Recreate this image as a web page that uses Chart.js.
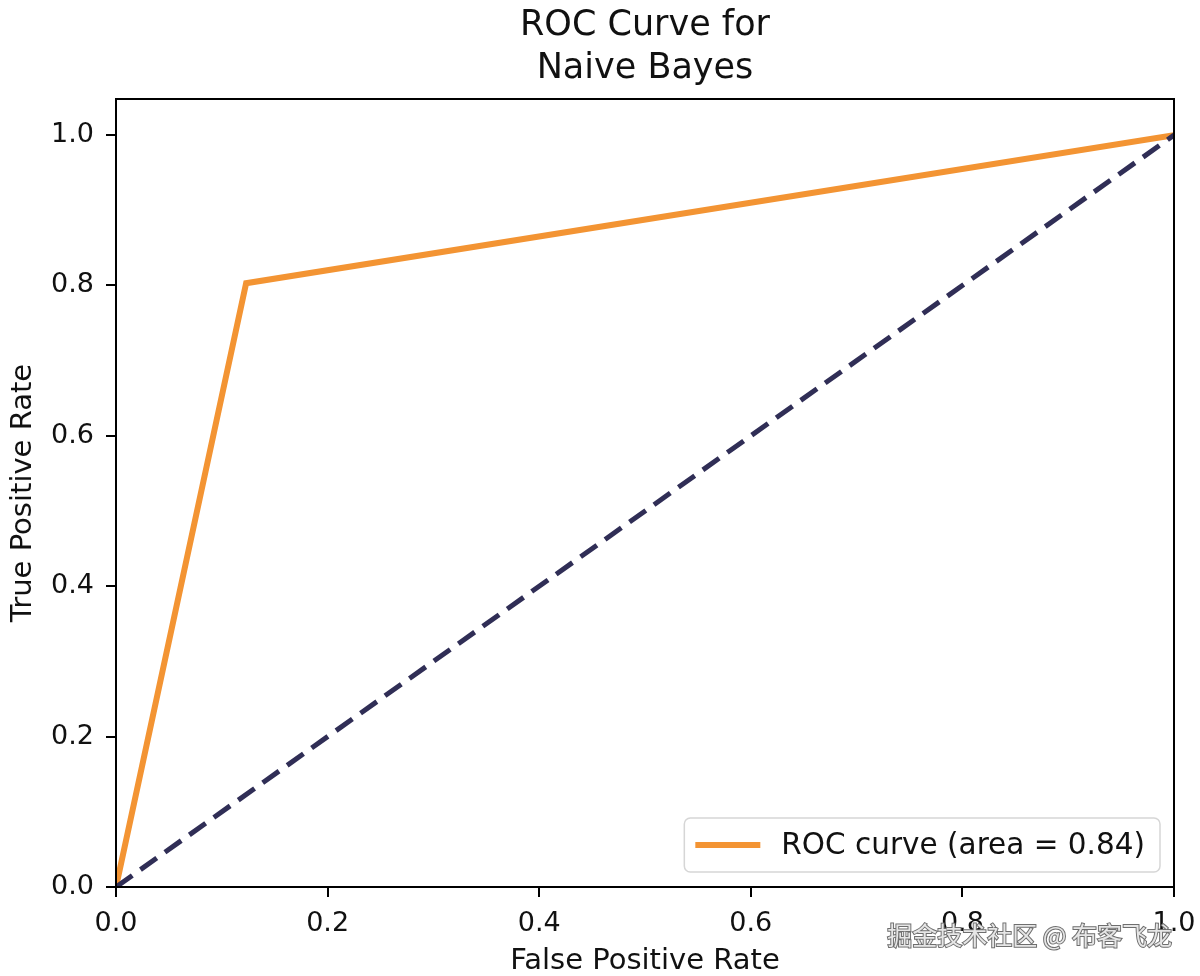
<!DOCTYPE html>
<html>
<head>
<meta charset="utf-8">
<script src="https://cdn.jsdelivr.net/npm/chart.js@4.4.1/dist/chart.umd.min.js"></script>
<style>
  html, body { margin: 0; padding: 0; background: #fff; }
  #wrap { width: 1200px; height: 976px; }
</style>
</head>
<body>
<div id="wrap"><canvas id="rocChart" width="1200" height="976"></canvas></div>
<script>
// ROC curve points
const fpr = [0.0, 0.123, 1.0];
const tpr = [0.0, 0.803, 1.0];
// chance line
const chanceX = [0.0, 1.0];
const chanceY = [0.0, 1.0];
const xTicks = [0.0, 0.2, 0.4, 0.6, 0.8, 1.0];
const yTicks = [0.0, 0.2, 0.4, 0.6, 0.8, 1.0];
const rocLabel = "ROC curve (area = 0.84)";
const titleLines = ["ROC Curve for", "Naive Bayes"];
const watermark = "掘金技术社区 @ 布客飞龙";

const FONT = "'DejaVu Sans', sans-serif";

// black box round the plot area
const frame = {
  id: "frame",
  afterDatasetsDraw(chart) {
    const { ctx, chartArea: a } = chart;
    ctx.save();
    ctx.strokeStyle = "#000";
    ctx.lineWidth = 2;
    ctx.strokeRect(a.left, a.top, a.right - a.left, a.bottom - a.top);
    ctx.restore();
  }
};

// title centred over the axes, not the canvas
const axesTitle = {
  id: "axesTitle",
  afterDraw(chart) {
    const { ctx, chartArea: a } = chart;
    ctx.save();
    ctx.font = "35px " + FONT;
    ctx.fillStyle = "#111";
    ctx.textAlign = "center";
    ctx.textBaseline = "alphabetic";
    const cx = (a.left + a.right) / 2;
    titleLines.forEach((t, i) => ctx.fillText(t, cx, 35 + i * 43));
    ctx.restore();
  }
};

// legend in the lower right corner, like matplotlib's
const innerLegend = {
  id: "innerLegend",
  afterDraw(chart) {
    const { ctx, chartArea: a } = chart;
    const ds = chart.data.datasets[0];
    ctx.save();
    ctx.font = "29.5px " + FONT;
    const tw = ctx.measureText(ds.label).width;
    const w = tw + 112, h = 54;
    const x = a.right - 14 - w, y = a.bottom - 15 - h;
    ctx.beginPath();
    ctx.roundRect(x, y, w, h, 6);
    ctx.fillStyle = "rgba(255,255,255,0.8)";
    ctx.fill();
    ctx.strokeStyle = "#d6d6d6";
    ctx.lineWidth = 1.5;
    ctx.stroke();
    ctx.beginPath();
    ctx.moveTo(x + 11, y + h / 2);
    ctx.lineTo(x + 76, y + h / 2);
    ctx.strokeStyle = ds.borderColor;
    ctx.lineWidth = ds.borderWidth;
    ctx.stroke();
    ctx.fillStyle = "#111";
    ctx.textBaseline = "middle";
    ctx.fillText(ds.label, x + 97, y + h / 2 + 1);
    ctx.restore();
  }
};

const stamp = {
  id: "stamp",
  afterDraw(chart) {
    const { ctx } = chart;
    ctx.save();
    ctx.font = "25px 'Noto Sans CJK SC', sans-serif";
    ctx.textAlign = "right";
    ctx.textBaseline = "middle";
    ctx.lineWidth = 2;
    ctx.strokeStyle = "#6e6e6e";
    ctx.strokeText(watermark, 1172, 935);
    ctx.fillStyle = "#e6e6e6";
    ctx.fillText(watermark, 1172, 935);
    ctx.restore();
  }
};

const ctx = document.getElementById("rocChart").getContext("2d");
new Chart(ctx, {
  type: "line",
  data: {
    datasets: [{
      label: rocLabel,
      data: fpr.map((v, i) => ({ x: v, y: tpr[i] })),
      borderColor: "#f39433",
      borderWidth: 6,
      pointRadius: 0,
      tension: 0,
      order: 1
    }, {
      label: "chance",
      data: chanceX.map((v, i) => ({ x: v, y: chanceY[i] })),
      borderColor: "#302e56",
      borderWidth: 5,
      borderDash: [20, 10],
      pointRadius: 0,
      order: 0
    }]
  },
  options: {
    responsive: false,
    animation: false,
    devicePixelRatio: 1,
    layout: { padding: { left: 0, right: 26, top: 99, bottom: 0 } },
    plugins: {
      legend: { display: false },
      tooltip: { enabled: false },
      title: { display: false }
    },
    scales: {
      x: {
        type: "linear",
        min: 0,
        max: 1,
        afterFit(s) {
          s.height = 89;
          s.paddingLeft = 0;
          s.paddingRight = 0;
        },
        afterBuildTicks(s) { s.ticks = xTicks.map(v => ({ value: v })); },
        grid: { drawOnChartArea: false, drawTicks: true, tickLength: 10, color: "#000", lineWidth: 2 },
        border: { display: true, color: "#000", width: 2 },
        ticks: {
          color: "#111",
          padding: 11,
          font: { family: FONT, size: 27 },
          maxRotation: 0,
          callback: v => v.toFixed(1)
        },
        title: {
          display: true,
          text: "False Positive Rate",
          color: "#111",
          font: { family: FONT, size: 29, lineHeight: 1.0 },
          padding: { top: 0, bottom: 0 }
        }
      },
      y: {
        type: "linear",
        min: 0,
        max: 1.048,
        afterFit(s) {
          s.width = 116;
          s.paddingTop = 0;
          s.paddingBottom = 0;
        },
        afterBuildTicks(s) { s.ticks = yTicks.map(v => ({ value: v })); },
        grid: { drawOnChartArea: false, drawTicks: true, tickLength: 10, color: "#000", lineWidth: 2 },
        border: { display: true, color: "#000", width: 2 },
        ticks: {
          color: "#111",
          padding: 12,
          font: { family: FONT, size: 27 },
          callback: v => v.toFixed(1)
        },
        title: {
          display: true,
          text: "True Positive Rate",
          color: "#111",
          font: { family: FONT, size: 29, lineHeight: 1.2 },
          padding: { top: 6, bottom: 0 }
        }
      }
    }
  },
  plugins: [frame, axesTitle, innerLegend, stamp]
});
</script>
</body>
</html>
